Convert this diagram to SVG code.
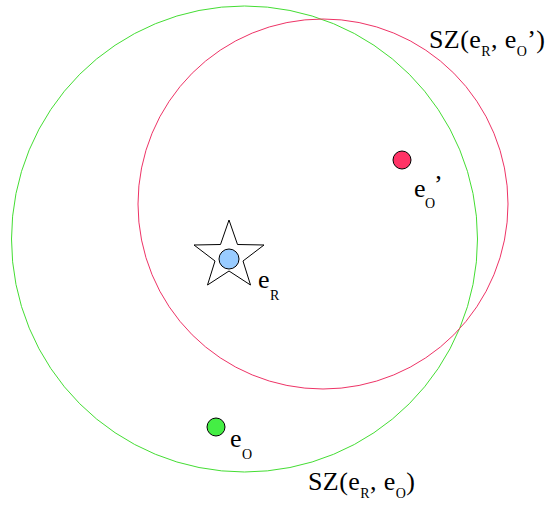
<svg xmlns="http://www.w3.org/2000/svg" width="550" height="505" viewBox="0 0 550 505">
<style>
text{font-family:"Liberation Serif","DejaVu Serif",serif;fill:#000}
.m{font-size:26px}
.s{font-size:14px}
.dot{stroke:#000;stroke-width:1}
</style>
<rect width="550" height="505" fill="#fff"/>
<g id="regions">
<circle id="sz-eo" cx="244.5" cy="239" r="233" fill="none" stroke="#44dd33" stroke-width="1"/>
<circle id="sz-eo-prime" cx="323" cy="204" r="185" fill="none" stroke="#ee3366" stroke-width="1"/>
</g>
<g id="eR">
<polygon points="229,220 237.5,244.5 264,245 243,261 250.5,285 229,271 207.5,285 215,261 194,245 220.5,244.5" fill="#fff" stroke="#000" stroke-width="1"/>
<circle class="dot" cx="229" cy="259" r="10" fill="#99ccff"/>
<text class="m" x="258" y="288">e</text><text class="s" x="270" y="300">R</text>
</g>
<g id="eOprime">
<circle class="dot" cx="402" cy="160" r="9" fill="#ff3366"/>
<text class="m" x="414" y="197">e</text><text class="s" x="425" y="208">O</text><text class="m" x="434" y="193">’</text>
</g>
<g id="eO">
<circle class="dot" cx="216" cy="427" r="9" fill="#44ee44"/>
<text class="m" x="230" y="447">e</text><text class="s" x="242" y="459">O</text>
</g>
<g id="labels">
<text x="429" y="48" letter-spacing="0.4"><tspan class="m">SZ(e</tspan><tspan class="s" dy="8">R</tspan><tspan class="m" dy="-8">, e</tspan><tspan class="s" dy="8">O</tspan><tspan class="m" dy="-8">’)</tspan></text>
<text x="308" y="490" letter-spacing="0.4"><tspan class="m">SZ(e</tspan><tspan class="s" dy="8">R</tspan><tspan class="m" dy="-8">, e</tspan><tspan class="s" dy="8">O</tspan><tspan class="m" dy="-8">)</tspan></text>
</g>
</svg>
